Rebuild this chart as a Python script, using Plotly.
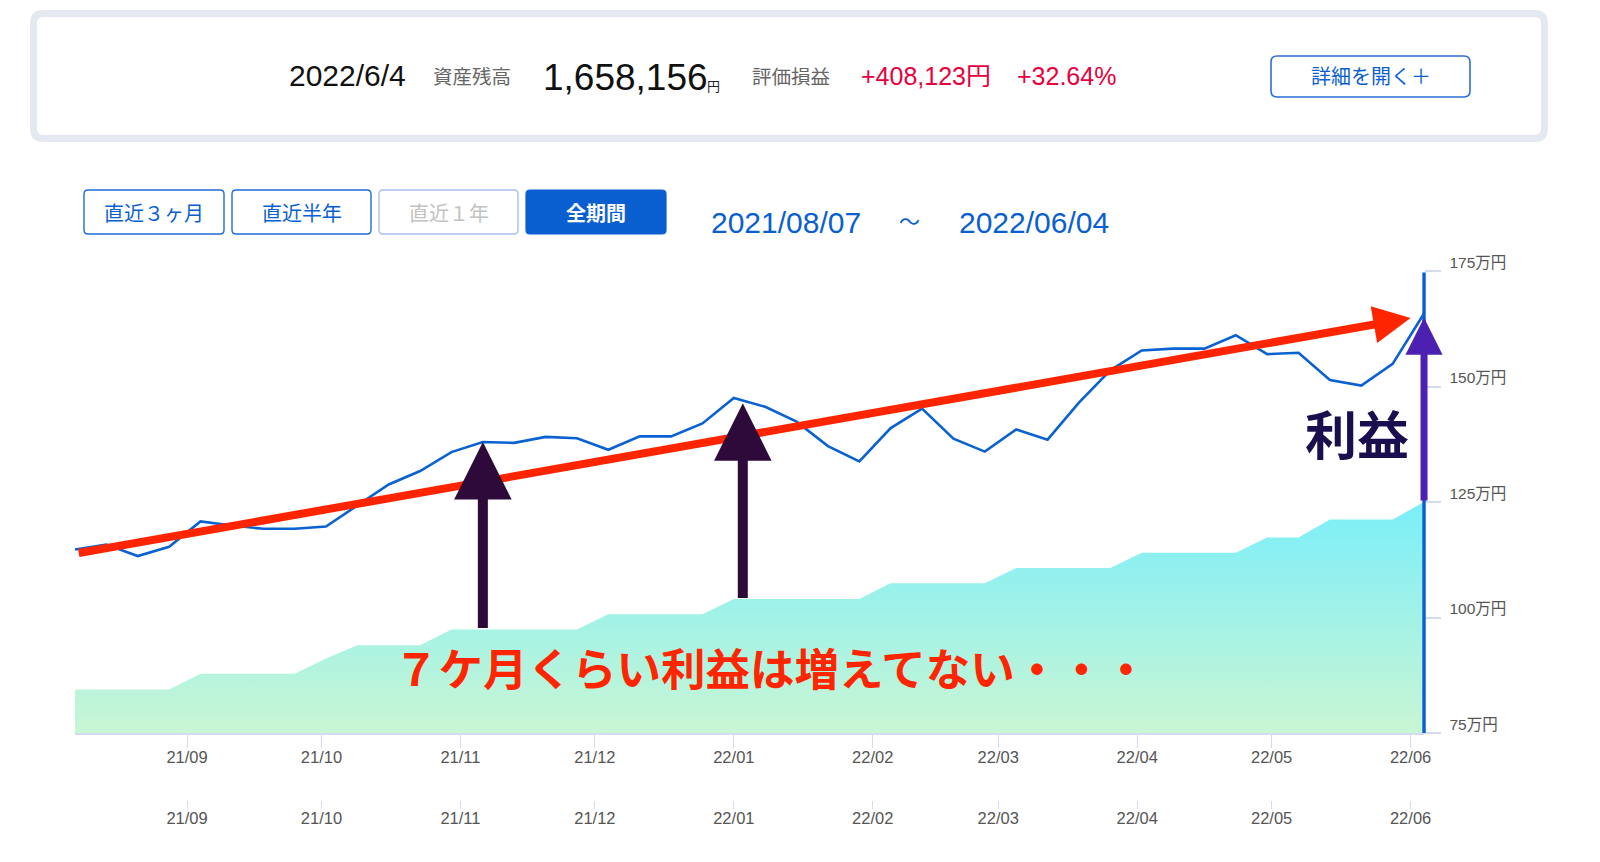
import plotly.graph_objects as go

W, H = 1600, 862

# ---------------- data ----------------
dates = [
    "2021-08-07", "2021-08-14", "2021-08-21", "2021-08-28", "2021-09-04", "2021-09-11",
    "2021-09-18", "2021-09-25", "2021-10-02", "2021-10-09", "2021-10-16", "2021-10-23",
    "2021-10-30", "2021-11-06", "2021-11-13", "2021-11-20", "2021-11-27", "2021-12-04",
    "2021-12-11", "2021-12-18", "2021-12-25", "2022-01-01", "2022-01-08", "2022-01-15",
    "2022-01-22", "2022-01-29", "2022-02-05", "2022-02-12", "2022-02-19", "2022-02-26",
    "2022-03-05", "2022-03-12", "2022-03-19", "2022-03-26", "2022-04-02", "2022-04-09",
    "2022-04-16", "2022-04-23", "2022-04-30", "2022-05-07", "2022-05-14", "2022-05-21",
    "2022-05-28", "2022-06-04",
]
# 評価額 (万円)
asset_man = [
    114.7, 115.8, 113.3, 115.3, 120.8, 119.9, 119.2, 119.2, 119.7, 124.3, 128.8, 131.7,
    135.8, 138.0, 137.8, 139.1, 138.8, 136.3, 139.2, 139.2, 142.0, 147.5, 145.6, 142.4,
    137.1, 133.8, 141.0, 145.2, 138.7, 135.9, 140.7, 138.5, 146.5, 153.5, 157.8, 158.2,
    158.2, 161.1, 157.0, 157.3, 151.4, 150.2, 154.9, 165.8,
]
# 投資元本 (万円)
principal_man = [
    84.4, 84.4, 84.4, 84.4, 87.8, 87.8, 87.8, 87.8, 91.1, 94.0, 94.0, 94.0,
    97.4, 97.4, 97.4, 97.4, 97.4, 100.7, 100.7, 100.7, 100.7, 104.0, 104.0, 104.0,
    104.0, 104.0, 107.4, 107.4, 107.4, 107.4, 110.7, 110.7, 110.7, 110.7, 114.0, 114.0,
    114.0, 114.0, 117.3, 117.3, 121.2, 121.2, 121.2, 125.0,
]
y_ticks = [75, 100, 125, 150, 175]
y_tick_text = ["75万円", "100万円", "125万円", "150万円", "175万円"]
x_range = ["2021-08-07", "2022-06-04 02:00"]

header_date = "2022/6/4"
header_total = "1,658,156"
header_gain = "+408,123円"
header_gain_pct = "+32.64%"
period_buttons = ["直近３ヶ月", "直近半年", "直近１年", "全期間"]
period_from, period_to = "2021/08/07", "2022/06/04"

# trend arrow (tail -> tip)
trend_tail = ("2021-08-07 12:00", 113.9)
trend_tip = ("2022-06-01", 164.8)
# flat-profit arrows (date, bottom, top)
flat_arrows = [("2021-11-06", 97.4, 138.0), ("2022-01-03", 103.9, 146.4)]
profit_arrow = ("2022-06-04", 125.0, 164.9)

# ---------------- helpers ----------------
def X(v):
    return v / W

def Y(v):
    return 1 - v / H

def rrect(x0, y0, x1, y1, r):
    return (f"M{X(x0+r)},{Y(y0)} L{X(x1-r)},{Y(y0)} Q{X(x1)},{Y(y0)} {X(x1)},{Y(y0+r)} "
            f"L{X(x1)},{Y(y1-r)} Q{X(x1)},{Y(y1)} {X(x1-r)},{Y(y1)} "
            f"L{X(x0+r)},{Y(y1)} Q{X(x0)},{Y(y1)} {X(x0)},{Y(y1-r)} "
            f"L{X(x0)},{Y(y0+r)} Q{X(x0)},{Y(y0)} {X(x0+r)},{Y(y0)} Z")

JP = "Noto Sans CJK JP"
LAT = "Liberation Sans, Noto Sans CJK JP"
BLUE = "#0a5fd0"

fig = go.Figure()

fig.add_trace(go.Scatter(
    x=dates, y=principal_man, mode="lines", line=dict(width=0, color="rgba(0,0,0,0)"),
    fill="tozeroy",
    fillgradient=dict(type="vertical", colorscale=[[0, "#c9f6d4"], [1, "#7beef9"]],
                      start=75, stop=125),
    hoverinfo="skip", showlegend=False,
))
fig.add_trace(go.Scatter(
    x=dates, y=asset_man, mode="lines", line=dict(width=2.6, color="#0a62d2"),
    hoverinfo="skip", showlegend=False,
))
# invisible trace on second (navigator) axis
fig.add_trace(go.Scatter(
    x=dates, y=asset_man, xaxis="x2", mode="lines", line=dict(width=0), opacity=0,
    hoverinfo="skip", showlegend=False,
))

x0d, x1d = 75, 1424.4
y0d, y1d = 271, 733

tickfont = dict(family=LAT, size=16.5, color="#555555")
fig.update_layout(
    width=W, height=H, margin=dict(l=0, r=0, t=0, b=0, pad=0, autoexpand=False),
    paper_bgcolor="white", plot_bgcolor="white", hovermode=False, showlegend=False,
    xaxis=dict(domain=[X(x0d), X(x1d)], range=x_range, type="date", automargin=False,
               showgrid=False, zeroline=False, showline=True, linecolor="#d3dbef", linewidth=1.5,
               ticks="outside", ticklen=13, tickcolor="#d3dbef", tickwidth=1,
               ticklabelstandoff=-5,
               tick0="2021-09-01", dtick="M1", tickformat="%y/%m", tickfont=tickfont,
               fixedrange=True),
    xaxis2=dict(overlaying="x", anchor="free", position=Y(800), range=x_range, type="date",
                automargin=False,
                showgrid=False, zeroline=False, showline=False,
                ticks="outside", ticklen=8, tickcolor="#d3dbef", tickwidth=1,
                ticklabelstandoff=-5,
                tick0="2021-09-01", dtick="M1", tickformat="%y/%m", tickfont=tickfont),
    yaxis=dict(domain=[Y(y1d), Y(y0d)], range=[75, 175], side="right", automargin=False,
               showgrid=False, zeroline=False, showline=False,
               tickvals=y_ticks, ticktext=y_tick_text, ticks="outside", ticklen=16,
               tickcolor="#d3dbef", tickwidth=1.5, ticklabelposition="outside top",
               ticklabelstandoff=21, ticklabelshift=3,
               tickfont=dict(family=LAT, size=15.5, color="#555555")),
)

shapes = []
# header box
shapes.append(dict(type="path", xref="paper", yref="paper", path=rrect(33.5, 13.5, 1544.5, 138.5, 10),
                   line=dict(color="#e4e8f0", width=7), fillcolor="white", layer="below"))
# details button
shapes.append(dict(type="path", xref="paper", yref="paper", path=rrect(1271, 56, 1470, 97, 6),
                   line=dict(color="#2a6fd6", width=1.6), fillcolor="white"))
# period buttons
btn_x = [(84, 224), (232, 371), (379, 518), (526, 666)]
for i, (a, b) in enumerate(btn_x):
    if i == 3:
        shapes.append(dict(type="path", xref="paper", yref="paper", path=rrect(a, 190, b, 234, 4),
                           line=dict(color=BLUE, width=1.2), fillcolor=BLUE))
    else:
        col = "#a8c2ea" if i == 2 else "#1f6bd6"
        shapes.append(dict(type="path", xref="paper", yref="paper", path=rrect(a, 190, b, 234, 4),
                           line=dict(color=col, width=1.4), fillcolor="white"))
# x axis line extension under the y ticks
shapes.append(dict(type="line", xref="paper", yref="paper", x0=X(x1d), x1=X(1441),
                   y0=Y(733), y1=Y(733), line=dict(color="#d3dbef", width=1.5)))
fig.update_layout(shapes=shapes)

ann = []
def txt(s, cx, cy, size, color, family=LAT, weight=None, xanchor="center"):
    f = dict(family=family, size=size, color=color)
    if weight:
        f["weight"] = weight
    ann.append(dict(text=s, x=X(cx), y=Y(cy), xref="paper", yref="paper", showarrow=False,
                    xanchor=xanchor, yanchor="middle", font=f))

# header
txt(header_date, 347, 76, 30, "#111111")
txt("資産残高", 472.5, 76, 19.5, "#666666", family=JP)
txt(header_total, 625, 77, 37, "#111111")
txt("円", 713.5, 85, 13, "#222222", family=JP)
txt("評価損益", 791, 76, 19.5, "#666666", family=JP)
txt(header_gain, 925.5, 76, 25, "#e8003d")
txt(header_gain_pct, 1066, 76, 25, "#e8003d")
txt("詳細を開く＋", 1370.5, 76, 20, BLUE, family=JP)

# period buttons text
btn_cols = [BLUE, BLUE, "#c2c2c2", "white"]
for i, (a, b) in enumerate(btn_x):
    txt(period_buttons[i], (a + b) / 2, 212, 20, btn_cols[i], family=JP,
        weight=700 if i == 3 else None)
txt(period_from, 786, 222, 30, BLUE)
txt("～", 909, 220, 21, BLUE, family=JP)
txt(period_to, 1034, 222, 30, BLUE)

# cursor line (as headless arrow so it is not clipped)
ann.append(dict(x=dates[-1], y=75, ax=dates[-1], ay=175, xref="x", yref="y", axref="x", ayref="y",
                text="", showarrow=True, arrowhead=0, arrowwidth=3.4, arrowcolor=BLUE, standoff=0))

# red trend arrow
ann.append(dict(x=trend_tip[0], y=trend_tip[1], ax=trend_tail[0], ay=trend_tail[1],
                xref="x", yref="y", axref="x", ayref="y", text="", showarrow=True,
                arrowhead=2, arrowsize=0.93, arrowwidth=8, arrowcolor="#ff2500", standoff=0))
# dark arrows
for d, lo, hi in flat_arrows:
    ann.append(dict(x=d, y=hi, ax=d, ay=lo, xref="x", yref="y", axref="x", ayref="y", text="",
                    showarrow=True, arrowhead=2, arrowsize=1.15, arrowwidth=10,
                    arrowcolor="#2e0a3b", standoff=0))
# purple profit arrow
ann.append(dict(x=profit_arrow[0], y=profit_arrow[2], ax=profit_arrow[0], ay=profit_arrow[1],
                xref="x", yref="y", axref="x", ayref="y", text="", showarrow=True,
                arrowhead=2, arrowsize=1.06, arrowwidth=7, arrowcolor="#4c21b1", standoff=0))

txt("利益", 1357, 432, 52, "#1b0e4f", family=JP, weight=700)
txt("７ケ月くらい利益は増えてない・・・", 771, 666, 44.5, "#ff2500", family=JP, weight=700)

fig.update_layout(annotations=ann)
fig.write_html("out.html")
